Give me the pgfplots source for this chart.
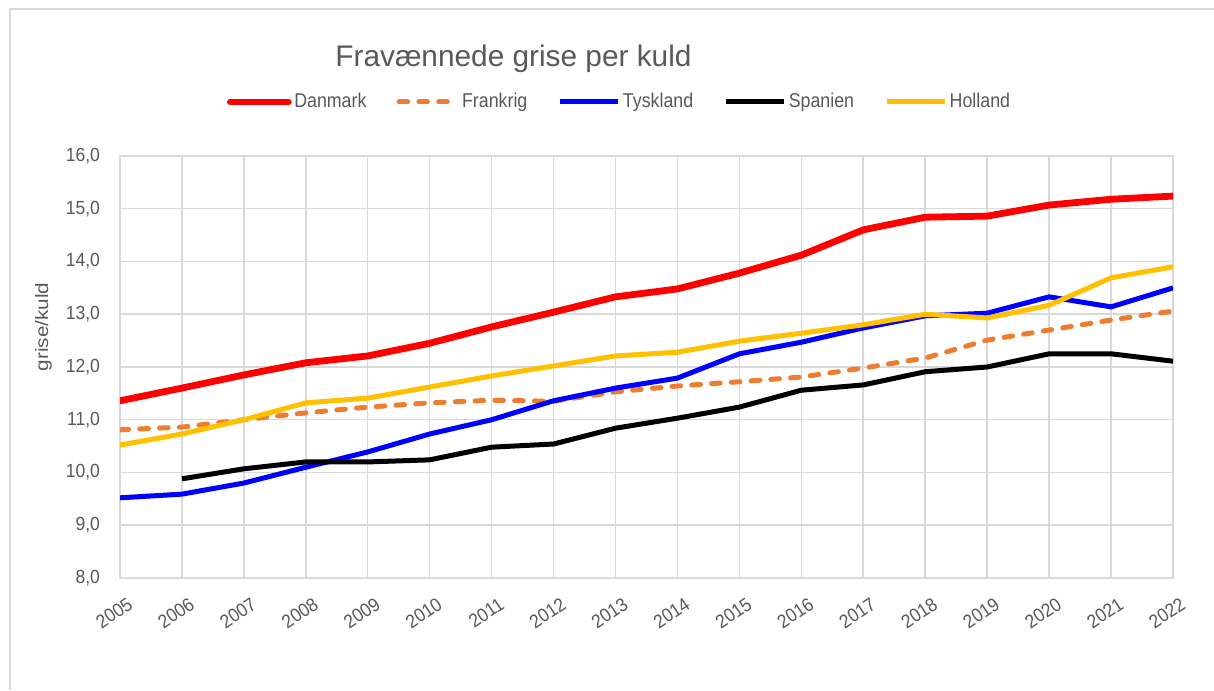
\documentclass[border=0pt]{standalone}
\usepackage{pgfplots}
\pgfplotsset{compat=1.18}
\usepackage{fontspec}
\setmainfont{Liberation Sans}
\newfontfamily\tickfont{Liberation Sans}[FakeStretch=0.92]
\newfontfamily\legfont{Liberation Sans}[FakeStretch=0.89]
\newfontfamily\ylabfont{Liberation Sans}[FakeStretch=1.15]
\definecolor{txt}{HTML}{595959}
\definecolor{gridc}{HTML}{D9D9D9}
\definecolor{dk}{HTML}{FF0000}
\definecolor{fr}{HTML}{ED7D31}
\definecolor{de}{HTML}{0000FF}
\definecolor{es}{HTML}{000000}
\definecolor{nl}{HTML}{FFC000}
\begin{document}
\begin{tikzpicture}
\path[use as bounding box, fill=white] (0,0) rectangle (607pt,345pt);
\draw[color=gridc, line width=0.6pt] (5pt,0) -- (5pt,340.5pt) -- (607pt,340.5pt);
\begin{axis}[
  at={(60pt,56pt)}, anchor=south west, scale only axis,
  width=526.5pt, height=211pt,
  xmin=2005, xmax=2022, ymin=8, ymax=16,
  xtick={2005,...,2022}, ytick={8,...,16},
  grid=major,
  major grid style={color=gridc, line width=0.75pt},
  axis line style={color=gridc, line width=0.75pt},
  tick style={draw=none},
  /pgf/number format/assume math mode=true,
  yticklabel style={font=\tickfont\fontsize{9.5}{10}\selectfont, text=txt, xshift=-6.5pt,
    /pgf/number format/fixed, /pgf/number format/fixed zerofill,
    /pgf/number format/precision=1, /pgf/number format/use comma},
  xticklabel style={font=\tickfont\fontsize{9.5}{10}\selectfont, text=txt,
    rotate=34, anchor=north east, yshift=-6pt, xshift=1pt,
    /pgf/number format/1000 sep={}},
  legend columns=5,
  legend style={at={(0.0955,1.128)}, anchor=west, draw=none, fill=none,
    font=\legfont\fontsize{10}{11}\selectfont, text=txt,
    nodes={inner xsep=1.25pt, inner ysep=1pt},
    /tikz/every even column/.append style={column sep=13.8pt}},
  legend image code/.code={\draw[#1] (0pt,0pt) -- (29pt,0pt);},
  every axis plot/.append style={line join=round},
]
\addplot[dk, line width=3.4pt, line cap=round] coordinates {
(2005,11.36) (2006,11.60) (2007,11.85) (2008,12.08) (2009,12.21) (2010,12.45)
(2011,12.76) (2012,13.04) (2013,13.33) (2014,13.48) (2015,13.78) (2016,14.12)
(2017,14.60) (2018,14.84) (2019,14.86) (2020,15.07) (2021,15.18) (2022,15.24)};
\addlegendentry{Danmark}
\addplot[fr, line width=2.5pt, line cap=round, dash pattern=on 4.3pt off 5.6pt] coordinates {
(2005,10.81) (2006,10.86) (2007,11.00) (2008,11.13) (2009,11.24) (2010,11.32)
(2011,11.37) (2012,11.35) (2013,11.53) (2014,11.64) (2015,11.72) (2016,11.81)
(2017,11.98) (2018,12.17) (2019,12.51) (2020,12.70) (2021,12.89) (2022,13.06)};
\addlegendentry{Frankrig}
\addplot[de, line width=2.5pt] coordinates {
(2005,9.52) (2006,9.59) (2007,9.80) (2008,10.10) (2009,10.39) (2010,10.73)
(2011,11.00) (2012,11.36) (2013,11.60) (2014,11.79) (2015,12.25) (2016,12.47)
(2017,12.74) (2018,12.97) (2019,13.02) (2020,13.33) (2021,13.14) (2022,13.50)};
\addlegendentry{Tyskland}
\addplot[es, line width=2.5pt] coordinates {
(2006,9.88) (2007,10.07) (2008,10.20) (2009,10.20) (2010,10.24)
(2011,10.48) (2012,10.54) (2013,10.84) (2014,11.03) (2015,11.24) (2016,11.56)
(2017,11.66) (2018,11.91) (2019,12.00) (2020,12.25) (2021,12.25) (2022,12.11)};
\addlegendentry{Spanien}
\addplot[nl, line width=2.5pt] coordinates {
(2005,10.52) (2006,10.73) (2007,11.00) (2008,11.32) (2009,11.41) (2010,11.62)
(2011,11.83) (2012,12.02) (2013,12.21) (2014,12.28) (2015,12.49) (2016,12.64)
(2017,12.80) (2018,13.00) (2019,12.93) (2020,13.17) (2021,13.69) (2022,13.90)};
\addlegendentry{Holland}
\end{axis}
\node[anchor=base west, inner sep=0, text=txt, font=\fontsize{14.9}{16}\selectfont] at (167.5pt,311.5pt) {Fravænnede grise per kuld};
\node[rotate=90, inner sep=0, text=txt, font=\ylabfont\fontsize{9}{10}\selectfont] at (21.75pt,181.5pt) {grise/kuld};
\end{tikzpicture}
\end{document}
